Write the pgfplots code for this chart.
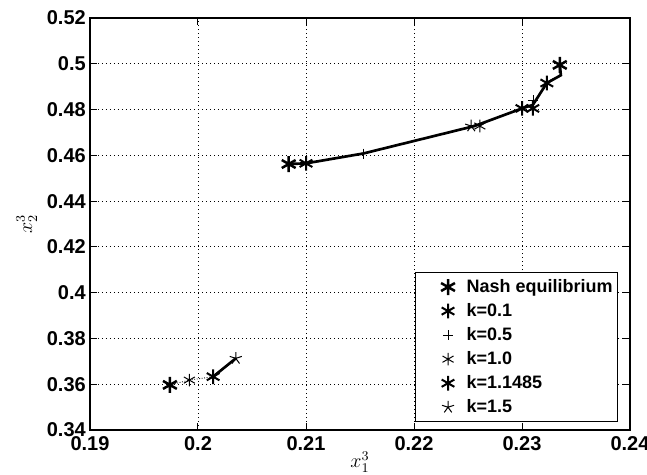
\documentclass[border=0pt]{standalone}
\usepackage{fontspec}
\setmainfont{Liberation Sans}
\usepackage{pgfplots}
\pgfplotsset{compat=1.18}

\begin{document}
\begin{tikzpicture}
\begin{axis}[name=ax,
  scale only axis, width=324pt, height=247.2pt,
  xmin=0.19, xmax=0.24, ymin=0.34, ymax=0.52,
  xtick={0.19,0.2,0.21,0.22,0.23,0.24},
  ytick={0.34,0.36,0.38,0.4,0.42,0.44,0.46,0.48,0.5,0.52},
  scaled ticks=false,
  /pgf/number format/fixed, /pgf/number format/precision=2,
  /pgf/number format/assume math mode=true,
  ticklabel style={font=\bfseries\fontsize{12}{13}\selectfont},
  yticklabel style={xshift=1pt},
  xticklabel style={yshift=-0.5pt},
  tick align=inside, major tick length=4pt,
  tick style={black, line width=0.6pt},
  axis line style={line width=0.9pt},
  grid=major, major grid style={black, dotted, line width=0.5pt},
  xlabel={$x_1^3$}, ylabel={$x_2^3$},
  label style={font=\fontsize{11.5}{12}\selectfont},
  xlabel style={yshift=6.5pt},
  ylabel style={yshift=-1pt},
  legend cell align=left,
  legend style={at={(0.978,0.019)}, anchor=south east, draw=black, line width=0.6pt,
    font=\bfseries\fontsize{10.8}{13}\selectfont, row sep=1.1pt,
    inner xsep=1pt, inner ysep=2pt,
    /tikz/every odd column/.append style={column sep=1pt}},
  legend image code/.code={\path (0cm,0cm) (0.88cm,0cm);
    \draw[mark repeat=2,mark phase=2] plot coordinates {(0cm,0cm) (0.62cm,0cm) (0.88cm,0cm)};},
]
% Nash equilibria
\addplot[only marks, mark=asterisk, mark size=4.8pt, line width=1.5pt] coordinates {
  (0.2084,0.4562) (0.1974,0.3597) (0.2335,0.4995)};
\addlegendentry{Nash equilibrium}
% k=0.1
\addplot[only marks, mark=asterisk, mark size=4.4pt, line width=1.2pt] coordinates {
  (0.2100,0.4565) (0.2300,0.4805)};
\addlegendentry{k=0.1}
% k=0.5
\addplot[only marks, mark=+, mark size=3pt, line width=0.3pt] coordinates {
  (0.2153,0.4608) (0.2310,0.4841)};
\addlegendentry{k=0.5}
% k=1.0
\addplot[only marks, mark=asterisk, mark size=3.8pt, line width=0.6pt] coordinates {
  (0.1992,0.3618) (0.2261,0.4728)};
\addlegendentry{k=1.0}
% k=1.1485
\addplot[only marks, mark=asterisk, mark size=4.4pt, line width=1.2pt] coordinates {
  (0.2014,0.3633) (0.2310,0.4805) (0.2323,0.4916)};
\addlegendentry{k=1.1485}
% k=1.5
\addplot[only marks, mark=star, mark size=3.8pt, line width=0.6pt] coordinates {
  (0.2035,0.3713) (0.2253,0.4728)};
\addlegendentry{k=1.5}
% trajectories
\addplot[forget plot, black, line width=1.6pt, mark=none] coordinates {
  (0.2084,0.4562) (0.2100,0.4565) (0.2153,0.4608) (0.2256,0.4728) (0.2300,0.4805)
  (0.2310,0.4820) (0.2323,0.4916) (0.2336,0.4950) (0.2335,0.4995)};
\addplot[forget plot, black, line width=1.6pt, mark=none] coordinates {
  (0.2014,0.3633) (0.2035,0.3713)};
\addplot[forget plot, black, densely dotted, line width=0.5pt, mark=none] coordinates {
  (0.1974,0.3597) (0.1992,0.3618) (0.2014,0.3633)};
\end{axis}
\pgfresetboundingbox
\path[use as bounding box] ([xshift=-54pt,yshift=-26.4pt]ax.south west)
  rectangle ([xshift=10.2pt,yshift=10.8pt]ax.north east);
\end{tikzpicture}
\end{document}
